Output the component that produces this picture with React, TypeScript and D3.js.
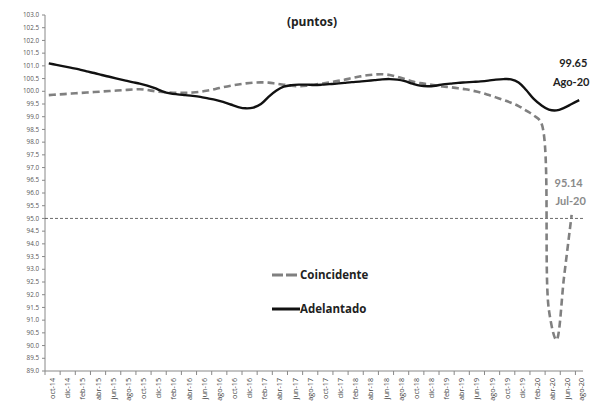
import React from "react";
import * as d3 from "d3";

const months: string[] = [
  "oct-14","nov-14","dic-14",
  "ene-15","feb-15","mar-15","abr-15","may-15","jun-15","jul-15","ago-15","sep-15","oct-15","nov-15","dic-15",
  "ene-16","feb-16","mar-16","abr-16","may-16","jun-16","jul-16","ago-16","sep-16","oct-16","nov-16","dic-16",
  "ene-17","feb-17","mar-17","abr-17","may-17","jun-17","jul-17","ago-17","sep-17","oct-17","nov-17","dic-17",
  "ene-18","feb-18","mar-18","abr-18","may-18","jun-18","jul-18","ago-18","sep-18","oct-18","nov-18","dic-18",
  "ene-19","feb-19","mar-19","abr-19","may-19","jun-19","jul-19","ago-19","sep-19","oct-19","nov-19","dic-19",
  "ene-20","feb-20","mar-20","abr-20","may-20","jun-20","jul-20","ago-20",
];

const adelantado: number[] = [
  101.10, 101.04, 100.98, 100.92, 100.86, 100.78, 100.72, 100.64, 100.57, 100.50,
  100.43, 100.36, 100.30, 100.22, 100.12, 100.00, 99.92, 99.88, 99.85, 99.82,
  99.78, 99.72, 99.66, 99.58, 99.48, 99.38, 99.33, 99.36, 99.50, 99.78,
  100.02, 100.18, 100.24, 100.26, 100.26, 100.25, 100.26, 100.28, 100.30, 100.33,
  100.36, 100.38, 100.41, 100.44, 100.47, 100.48, 100.46, 100.40, 100.30, 100.22,
  100.20, 100.22, 100.27, 100.30, 100.33, 100.35, 100.37, 100.39, 100.42, 100.46,
  100.48, 100.47, 100.35, 100.05, 99.70, 99.45, 99.28, 99.25, 99.35, 99.50,
  99.65,
];

const coincidente: number[] = [
  99.85, 99.87, 99.89, 99.91, 99.93, 99.95, 99.97, 99.99, 100.01, 100.03,
  100.05, 100.07, 100.08, 100.05, 100.00, 99.97, 99.95, 99.94, 99.94, 99.95,
  99.98, 100.03, 100.09, 100.16, 100.22, 100.27, 100.31, 100.34, 100.35, 100.34,
  100.30, 100.26, 100.22, 100.20, 100.22, 100.26, 100.30, 100.34, 100.40, 100.45,
  100.52, 100.58, 100.63, 100.66, 100.67, 100.64, 100.57, 100.48, 100.38, 100.32,
  100.28, 100.24, 100.19, 100.16, 100.12, 100.08, 100.02, 99.95, 99.86, 99.76,
  99.66, 99.55, 99.42, 99.24, 99.05, 98.75, 91.4, 90.22, 92.7, 95.14,
];

const yTicks: number[] = d3.range(89, 103.001, 0.5);
const referenceLevel = 95.0;

export default function App() {
  const W = 602, H = 415;
  const left = 45, right = 583, top = 15, bottom = 371;
  const x = d3.scaleBand<string>().domain(months).range([left, right]).padding(0);
  const bw = x.bandwidth();
  const cx = (m: string) => (x(m) as number) + bw / 2;
  const y = d3.scaleLinear().domain([89, 103]).range([bottom, top]);

  const line = d3
    .line<number>()
    .x((_, i) => cx(months[i]))
    .y((d) => y(d))
    .curve(d3.curveCatmullRom.alpha(0.5));

  const tickIdx = d3.range(0, months.length + 1, 2);
  const labelIdx = d3.range(0, months.length, 2);
  const font = "Lato, 'Open Sans', sans-serif";
  const font2 = "'Open Sans', Lato, sans-serif";
  const lastA = adelantado.length - 1;
  const lastC = coincidente.length - 1;

  return (
    <svg
      width={W}
      height={H}
      style={{ position: "absolute", left: 0, top: 0, background: "#fff" }}
      fontFamily={font}
    >
      <rect width={W} height={H} fill="#fff" />
      <text x={312} y={26} textAnchor="middle" fontSize={12} fontWeight="bold" fill="#222" fontFamily={font2}>
        (puntos)
      </text>

      {/* y axis */}
      <line x1={left} x2={left} y1={top} y2={bottom} stroke="#888" strokeWidth={1} />
      {yTicks.map((t) => (
        <g key={t}>
          <line x1={left - 3} x2={left} y1={y(t)} y2={y(t)} stroke="#888" />
          <text
            x={left - 6}
            y={y(t)}
            dy="0.35em"
            textAnchor="end"
            fontSize={6.3}
            fill="#555"
            fontFamily={font2}
          >
            {t.toFixed(1)}
          </text>
        </g>
      ))}

      {/* x axis */}
      <line x1={left} x2={right} y1={bottom} y2={bottom} stroke="#888" strokeWidth={1} />
      {tickIdx.map((i) => {
        const xx = left + i * bw;
        return <line key={i} x1={xx} x2={xx} y1={bottom} y2={bottom + 4} stroke="#888" />;
      })}
      {labelIdx.map((i) => {
        const xx = Math.min(left + (i + 1) * bw, right - 2);
        return (
          <text
            key={i}
            transform={`translate(${xx},${bottom + 7}) rotate(-90)`}
            textAnchor="end"
            dy="0.35em"
            fontSize={7.2}
            fill="#444"
            fontFamily={font2}
          >
            {months[i]}
          </text>
        );
      })}

      {/* reference line */}
      <line
        x1={left}
        x2={right}
        y1={y(referenceLevel)}
        y2={y(referenceLevel)}
        stroke="#444"
        strokeWidth={0.8}
        strokeDasharray="3,2"
      />

      {/* series */}
      <path
        d={line(coincidente) || ""}
        fill="none"
        stroke="#808080"
        strokeWidth={2.6}
        strokeDasharray="7,4"
      />
      <path d={line(adelantado) || ""} fill="none" stroke="#111" strokeWidth={2.4} />

      {/* annotations */}
      <text x={cx(months[lastA]) - 6} y={67} textAnchor="middle" fontSize={11} fontWeight="bold" fill="#222">
        {adelantado[lastA].toFixed(2)}
      </text>
      <text x={cx(months[lastA]) - 8} y={86} textAnchor="middle" fontSize={11} fontWeight="bold" fill="#222">
        Ago-20
      </text>
      <text x={cx(months[lastC]) - 3} y={187} textAnchor="middle" fontSize={11} fontWeight="bold" fill="#8a8a8a">
        {coincidente[lastC].toFixed(2)}
      </text>
      <text x={cx(months[lastC]) - 1} y={205} textAnchor="middle" fontSize={11} fontWeight="bold" fill="#8a8a8a">
        Jul-20
      </text>

      {/* legend */}
      <line x1={272} x2={297} y1={275} y2={275} stroke="#808080" strokeWidth={3} strokeDasharray="11,3" />
      <text x={300} y={275} dy="0.35em" fontSize={11.5} fontWeight="bold" fill="#222" fontFamily={font2}>
        Coincidente
      </text>
      <line x1={272} x2={300} y1={309} y2={309} stroke="#111" strokeWidth={3} />
      <text x={300} y={309} dy="0.35em" fontSize={11.5} fontWeight="bold" fill="#222" fontFamily={font2}>
        Adelantado
      </text>
    </svg>
  );
}
